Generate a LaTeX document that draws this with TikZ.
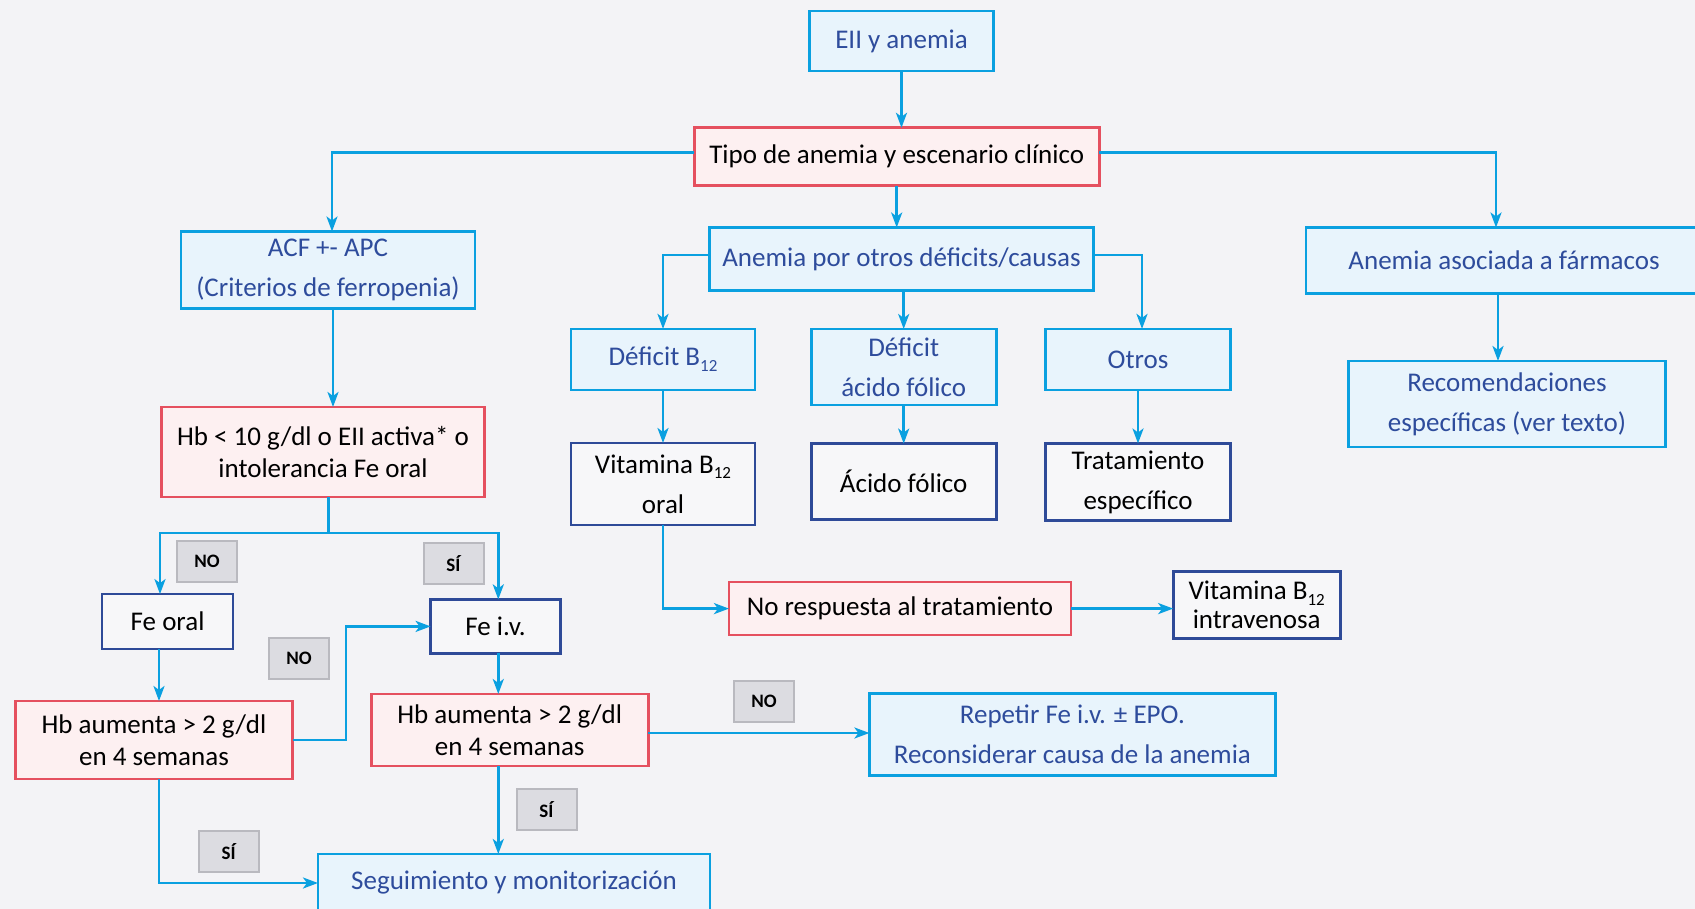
\documentclass[tikz,border=0pt]{standalone}
\usepackage{fontspec}
\setmainfont{Carlito}
\usetikzlibrary{arrows.meta,calc}
\definecolor{bg}{HTML}{F3F3F6}
\definecolor{cyanl}{HTML}{0AA0E0}
\definecolor{lbfill}{HTML}{E8F4FC}
\definecolor{lbtext}{HTML}{2E4C9C}
\definecolor{redl}{HTML}{E5505F}
\definecolor{redfill}{HTML}{FDF0F1}
\definecolor{dbl}{HTML}{2E4A98}
\definecolor{dbfill}{HTML}{F7F7F9}
\definecolor{grl}{HTML}{B9B9BF}
\definecolor{grfill}{HTML}{DCDCE1}
\tikzset{
 base/.style={rectangle, inner sep=0pt, outer sep=0pt, line width=2.6pt, align=center, font=\fontsize{27}{40}\selectfont},
 lb/.style={base, draw=cyanl, fill=lbfill, text=lbtext},
 rb/.style={base, draw=redl, fill=redfill, text=black},
 db/.style={base, draw=dbl, fill=dbfill, text=black},
 tight/.style={font=\fontsize{27}{32}\selectfont},
 lab/.style={rectangle, inner sep=0pt, line width=2pt, draw=grl, fill=grfill, font=\fontsize{19}{19}\selectfont\bfseries, minimum width=60pt, minimum height=41pt},
 arr/.style={draw=cyanl, line width=2.6pt, -{Stealth[length=15pt,width=11pt,inset=4pt]}},
 conn/.style={draw=cyanl, line width=2.6pt},
}
\newcommand{\subidx}[1]{\raisebox{-0.45ex}{\fontsize{17}{17}\selectfont #1}}
\begin{document}
\begin{tikzpicture}[x=1pt,y=-1pt]
\useasboundingbox (0,0) rectangle (1695,909);
\fill[bg] (0,0) rectangle (1695,909);
\clip (0,0) rectangle (1695,909);

\node[lb, minimum width=184pt, minimum height=60pt] (eii) at (901.5,41) {EII y anemia};
\node[rb, minimum width=405pt, minimum height=58pt] (tipo) at (896.7,156.8) {Tipo de anemia y escenario clínico};
\node[lb, minimum width=294pt, minimum height=77pt] (acf) at (328,270) {ACF +- APC\\(Criterios de ferropenia)};
\node[lb, minimum width=384pt, minimum height=63pt] (otrosdef) at (901.5,259) {Anemia por otros déficits/causas};
\node[lb, minimum width=396pt, minimum height=66pt] (farm) at (1504,260.5) {Anemia asociada a fármacos};
\node[lb, minimum width=184pt, minimum height=61pt] (b12) at (663,359.4) {Déficit B\subidx{12}};
\node[lb, minimum width=185pt, minimum height=76pt] (acfol) at (903.7,367) {Déficit\\ácido fólico};
\node[lb, minimum width=185pt, minimum height=61pt] (otros) at (1138,359.4) {Otros};
\node[lb, minimum width=317pt, minimum height=86pt] (recom) at (1507,404) {Recomendaciones\\específicas (ver texto)};
\node[rb, tight, minimum width=323pt, minimum height=90pt] (hb10) at (323,452) {Hb < 10 g/dl o EII activa* o\\intolerancia Fe oral};
\node[db, minimum width=184pt, minimum height=82pt] (vb12) at (663,484) {Vitamina B\subidx{12}\\oral};
\node[db, minimum width=185pt, minimum height=76pt] (acido) at (903.7,481.6) {Ácido fólico};
\node[db, minimum width=185pt, minimum height=77pt] (trat) at (1138,482) {Tratamiento\\específico};
\node[rb, minimum width=342pt, minimum height=53pt] (norep) at (900,608.6) {No respuesta al tratamiento};
\node[db, font=\fontsize{27}{29}\selectfont, minimum width=167pt, minimum height=67pt] (ivb12) at (1256.7,605) {Vitamina B\subidx{12}\\intravenosa};
\node[db, minimum width=131pt, minimum height=55pt] (feoral) at (167.6,621.6) {Fe oral};
\node[db, minimum width=130pt, minimum height=54pt] (feiv) at (495.6,626.4) {Fe i.v.};
\node[rb, tight, minimum width=277pt, minimum height=78pt] (hbl) at (154,740) {Hb aumenta > 2 g/dl\\en 4 semanas};
\node[rb, tight, minimum width=277pt, minimum height=72pt] (hbm) at (509.7,730) {Hb aumenta > 2 g/dl\\en 4 semanas};
\node[lb, minimum width=406pt, minimum height=82pt] (rep) at (1072.4,734.5) {Repetir Fe i.v. ± EPO.\\Reconsiderar causa de la anemia};
\node[lb, minimum width=392pt, minimum height=58pt] (seg) at (514,883) {Seguimiento y monitorización};

\node[lab] (no1) at (207,561) {NO};
\node[lab] (si1) at (453.5,563.7) {SÍ};
\node[lab] (no2) at (299,658.3) {NO};
\node[lab] (no3) at (764,701.6) {NO};
\node[lab] (si2) at (546.5,809.7) {SÍ};
\node[lab] (si3) at (228.6,851.8) {SÍ};

\coordinate (split) at (328.6,533);
\coordinate (bx) at (346,700);

\draw[arr] (eii.south) -- (eii.south |- tipo.north);
\draw[arr] ([yshift=4.4pt]tipo.west) -| ([xshift=4pt]acf.north);
\draw[arr] ([yshift=4.4pt]tipo.east) -| ([xshift=-8pt]farm.north);
\draw[arr] (tipo.south) -- (tipo.south |- otrosdef.north);
\draw[arr] ([yshift=4pt]otrosdef.west) -| (b12.north);
\draw[arr] (otrosdef.south -| acfol.north) -- (acfol.north);
\draw[arr] ([yshift=4pt]otrosdef.east) -| ([xshift=4pt]otros.north);
\draw[arr] ([xshift=-6pt]farm.south) -- ([xshift=-6pt]farm.south |- recom.north);
\draw[arr] (b12) -- (vb12);
\draw[arr] (acfol) -- (acido);
\draw[arr] (otros) -- (trat);
\draw[arr] (vb12.south) |- (norep.west);
\draw[arr] (norep.east) -- (norep.east -| ivb12.west);
\draw[arr] ([xshift=5pt]acf.south) -- ([xshift=5pt]acf.south |- hb10.north);
\draw[conn] (hb10.south -| split) -- (split);
\draw[arr] (split) -| ([xshift=-7.6pt]feoral.north);
\draw[arr] (split) -| ([xshift=2.7pt]feiv.north);
\draw[arr] ([xshift=-8.6pt]feoral.south) -- ([xshift=-8.6pt]feoral.south |- hbl.north);
\draw[arr] (hbl.east) -- (hbl.east -| bx) -- (bx |- feiv.west) -- (feiv.west);
\draw[arr] ([xshift=2.7pt]feiv.south) -- ([xshift=2.7pt]feiv.south |- hbm.north);
\draw[arr] ([yshift=-3pt]hbm.east) -- ([yshift=-3pt]hbm.east -| rep.west);
\draw[arr] ([xshift=-11.4pt]hbm.south) -- ([xshift=-11.4pt]hbm.south |- seg.north);
\draw[arr] ([xshift=5pt]hbl.south) |- (seg.west);
\end{tikzpicture}
\end{document}
